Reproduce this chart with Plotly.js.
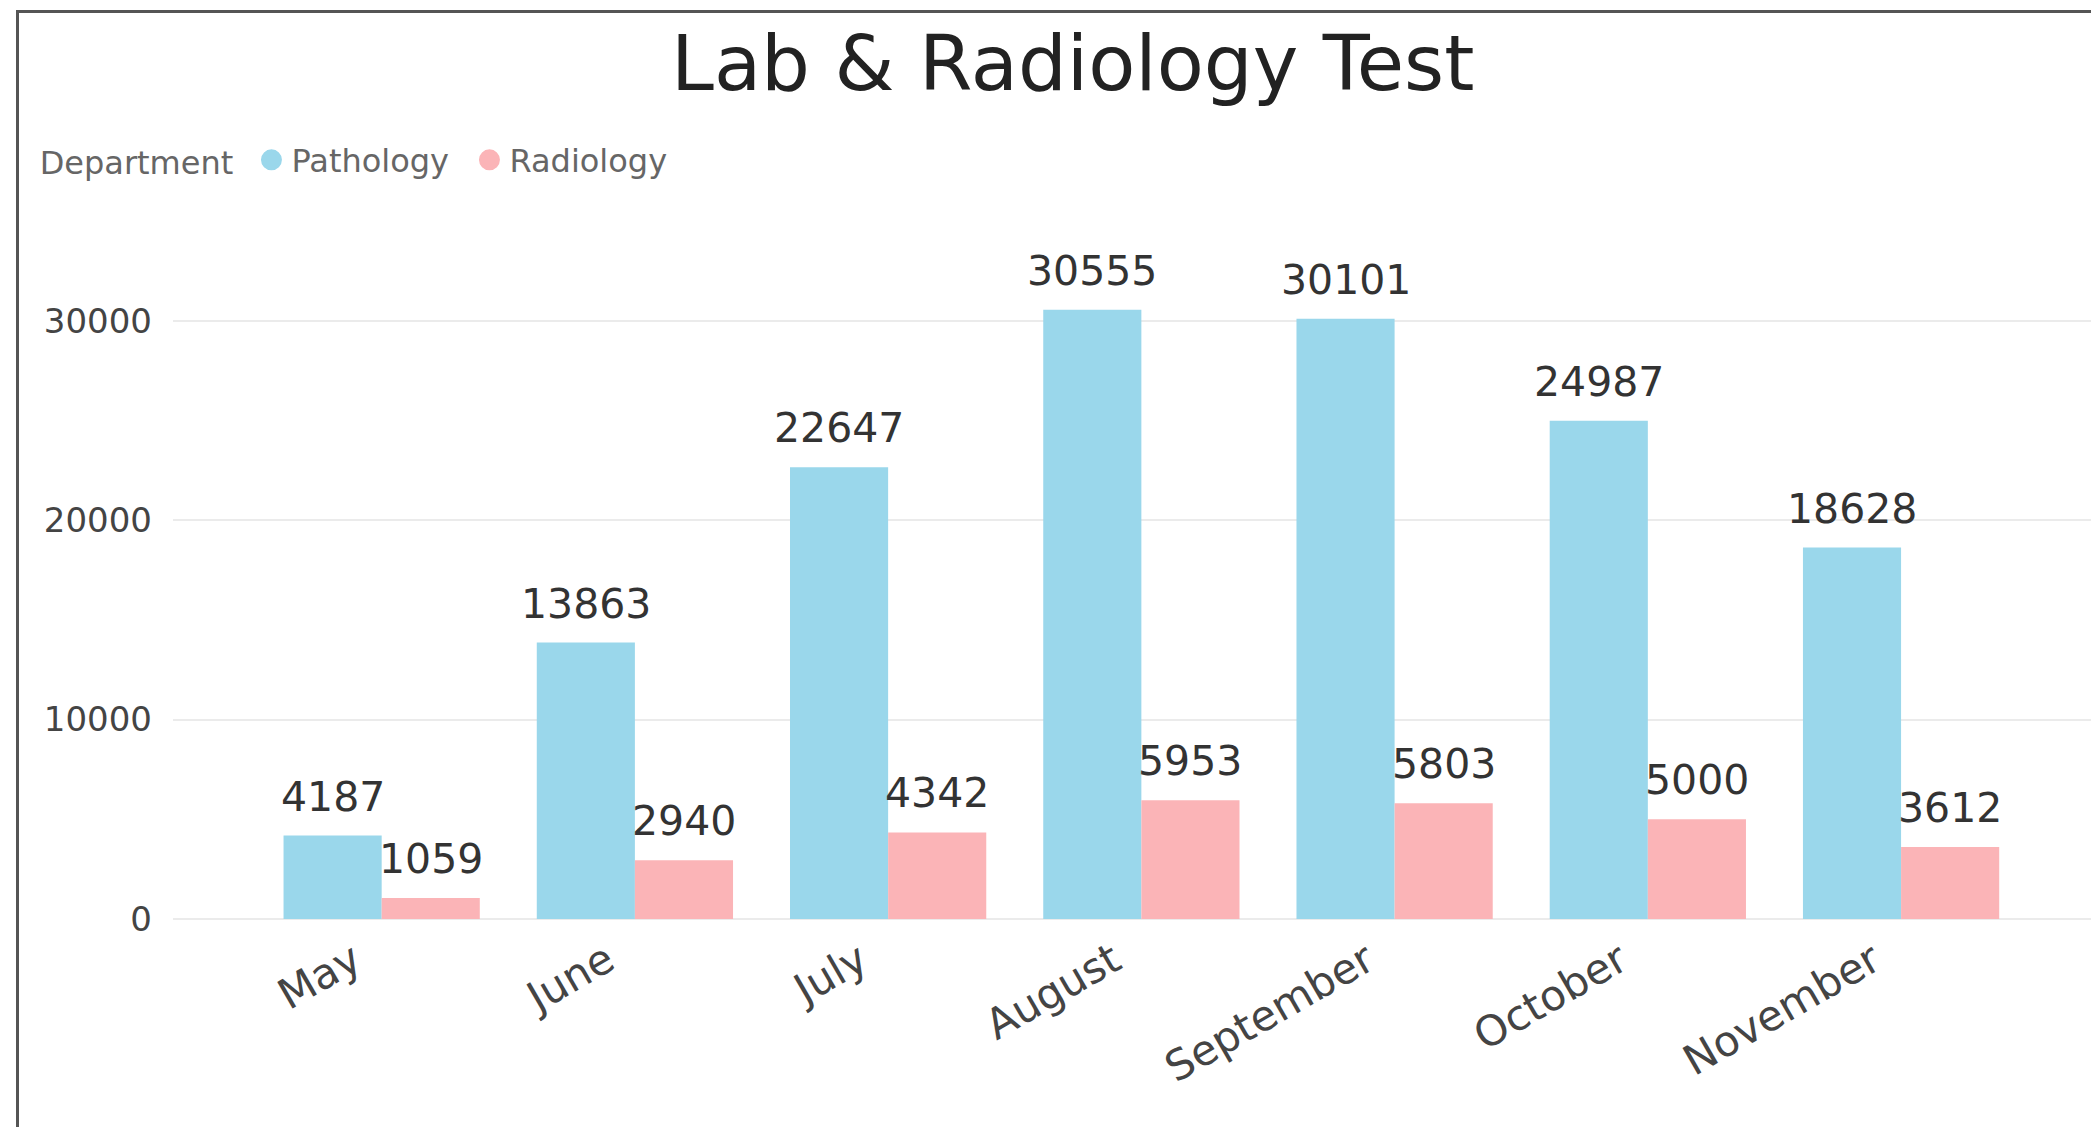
<!DOCTYPE html>
<html>
<head>
<meta charset="utf-8">
<script src="https://cdn.plot.ly/plotly-3.0.1.min.js"></script>
<style>
  html, body { margin: 0; padding: 0; background: #ffffff; }
  #chart { width: 2091px; height: 1127px; position: absolute; left: 0; top: 0; }
  #frame { position: absolute; left: 16px; top: 10px; width: 2200px; height: 1200px;
           border-left: 3px solid #555555; border-top: 3px solid #555555; pointer-events: none; }
</style>
</head>
<body>
<div id="chart"></div>
<div id="frame"></div>
<script>
const months = ["May", "June", "July", "August", "September", "October", "November"];
const pathology = [4187, 13863, 22647, 30555, 30101, 24987, 18628];
const radiology = [1059, 2940, 4342, 5953, 5803, 5000, 3612];
const yTicks = [0, 10000, 20000, 30000];
const seriesNames = ["Pathology", "Radiology"];
const seriesColors = ["#9AD7EB", "#FBB4B7"];

const FONT = "DejaVu Sans, Verdana, sans-serif";

const traces = [
  { type: "bar", name: seriesNames[0], x: months, y: pathology,
    marker: { color: seriesColors[0] }, showlegend: false, hoverinfo: "x+y" },
  { type: "bar", name: seriesNames[1], x: months, y: radiology,
    marker: { color: seriesColors[1] }, showlegend: false, hoverinfo: "x+y" },
  // legend entries (round markers as in the reference)
  { type: "scatter", mode: "markers", name: seriesNames[0], x: [null], y: [null],
    marker: { color: seriesColors[0], size: 16, line: { color: seriesColors[0], width: 5 } } },
  { type: "scatter", mode: "markers", name: seriesNames[1], x: [null], y: [null],
    marker: { color: seriesColors[1], size: 16, line: { color: seriesColors[1], width: 5 } } }
];

const annotations = [];
const barHalf = 49;
const labelFont = { family: FONT, size: 41, color: "#333333" };
months.forEach((m, i) => {
  annotations.push({ x: m, y: pathology[i], xref: "x", yref: "y", text: String(pathology[i]),
    showarrow: false, xanchor: "center", yanchor: "bottom", xshift: -barHalf, yshift: 13,
    font: labelFont });
  annotations.push({ x: m, y: radiology[i], xref: "x", yref: "y", text: String(radiology[i]),
    showarrow: false, xanchor: "center", yanchor: "bottom", xshift: barHalf, yshift: 13,
    font: labelFont });
});

const layout = {
  width: 2091, height: 1127,
  paper_bgcolor: "#ffffff", plot_bgcolor: "#ffffff",
  margin: { l: 173, r: 0, t: 221, b: 208 },
  font: { family: FONT, color: "#444444" },
  title: { text: "Lab & Radiology Test", font: { family: FONT, size: 77, color: "#222222" },
           x: 0.513, xref: "container", xanchor: "center", y: 0.944, yref: "container", yanchor: "middle" },
  barmode: "group", bargap: 0.225, bargroupgap: 0,
  showlegend: true,
  legend: { orientation: "h", x: 0.018, xref: "container", xanchor: "left",
            y: 0.858, yref: "container", yanchor: "middle",
            title: { text: "Department&nbsp;", side: "left", font: { family: FONT, size: 32, color: "#666666" } },
            font: { family: FONT, size: 32, color: "#666666" }, bgcolor: "rgba(0,0,0,0)",
            entrywidth: 173 },
  xaxis: { type: "category", range: [-0.824, 6.75], tickangle: -30,
           tickfont: { family: FONT, size: 42, color: "#444444" },
           showgrid: false, zeroline: false, showline: false, ticks: "",
           ticklabelstandoff: 8, ticklabelshift: -28 },
  yaxis: { range: [0, 35000], tickvals: yTicks, ticktext: yTicks.map(String),
           tickfont: { family: FONT, size: 34, color: "#444444" },
           showgrid: true, gridcolor: "#ebebeb", gridwidth: 2,
           zeroline: true, zerolinecolor: "#ebebeb", zerolinewidth: 2,
           showline: false, ticks: "", ticklabelstandoff: 20 },
  annotations: annotations
};

Plotly.newPlot("chart", traces, layout, { displayModeBar: false, staticPlot: true });
</script>
</body>
</html>
